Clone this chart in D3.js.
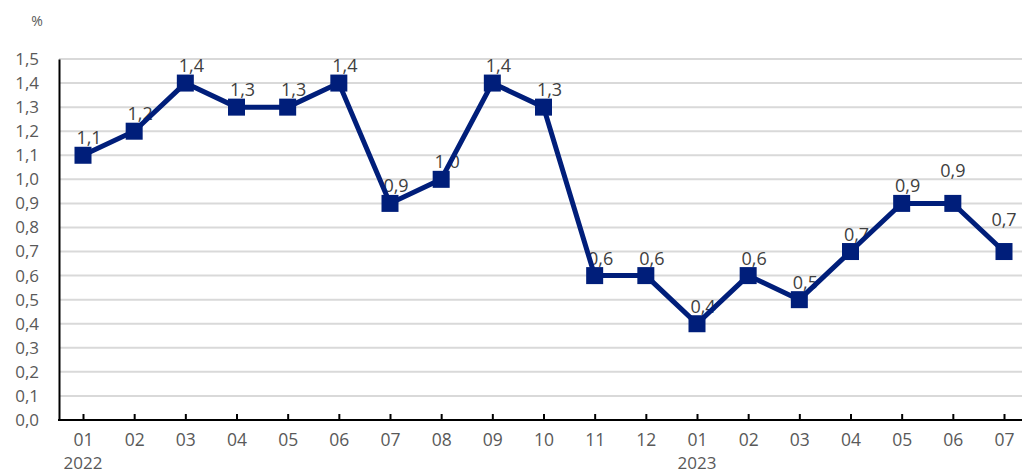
<!DOCTYPE html>
<html>
<head>
<meta charset="utf-8">
<script src="https://cdn.jsdelivr.net/npm/d3@7"></script>
<style>
  body { margin: 0; background: #fff; }
  svg text { font-family: "Open Sans", "Noto Sans", sans-serif; }
</style>
</head>
<body>
<div id="chart"></div>
<script>
// months, two years
var months = ["01","02","03","04","05","06","07","08","09","10","11","12",
              "01","02","03","04","05","06","07"];
var years = ["2022","","","","","","","","","","","",
             "2023","","","","","",""];
var values = [1.1,1.2,1.4,1.3,1.3,1.4,0.9,1.0,1.4,1.3,0.6,0.6,
              0.4,0.6,0.5,0.7,0.9,0.9,0.7];
var yTicks = [0,0.1,0.2,0.3,0.4,0.5,0.6,0.7,0.8,0.9,1.0,1.1,1.2,1.3,1.4,1.5];

var width = 1022, height = 475;
var plotLeft = 59, plotRight = 1022, plotTop = 59, plotBottom = 420;

var fmt = function(v) { return d3.format(".1f")(v).replace(".", ","); };

var svg = d3.select("#chart").append("svg")
  .attr("width", width)
  .attr("height", height);

var idx = d3.range(values.length);

var x = d3.scalePoint()
  .domain(idx)
  .range([83, 1004]);

var y = d3.scaleLinear()
  .domain([0, 1.5])
  .range([plotBottom, plotTop]);

// gridlines
svg.append("g")
  .selectAll("line")
  .data(yTicks.slice(1))
  .enter().append("line")
  .attr("x1", plotLeft)
  .attr("x2", plotRight)
  .attr("y1", function(d) { return y(d); })
  .attr("y2", function(d) { return y(d); })
  .attr("stroke", "#d9d9d9")
  .attr("stroke-width", 2);

// y axis
var yAxis = d3.axisLeft(y).tickValues(yTicks).tickFormat(fmt).tickSize(0).tickPadding(0);
var yg = svg.append("g")
  .attr("transform", "translate(" + plotLeft + ",0)")
  .call(yAxis);
yg.select(".domain").attr("stroke", "#000").attr("stroke-width", 2);
yg.selectAll("text")
  .attr("x", -20)
  .style("font-size", "17px")
  .style("fill", "#595959");

// x axis
var xAxis = d3.axisBottom(x).tickFormat(function(i) { return months[i]; }).tickSizeInner(-6).tickSizeOuter(0).tickPadding(14);
var xg = svg.append("g")
  .attr("transform", "translate(0," + plotBottom + ")")
  .call(xAxis);
xg.select(".domain").remove();
xg.selectAll(".tick line").attr("stroke", "#000").attr("stroke-width", 2);
xg.selectAll("text")
  .style("font-size", "17.5px")
  .style("fill", "#595959");

svg.append("line")
  .attr("x1", plotLeft - 1)
  .attr("x2", plotRight)
  .attr("y1", plotBottom)
  .attr("y2", plotBottom)
  .attr("stroke", "#000")
  .attr("stroke-width", 2);

// year labels
svg.append("g")
  .selectAll("text")
  .data(idx.filter(function(i) { return years[i] != ""; }))
  .enter().append("text")
  .attr("x", function(i) { return x(i); })
  .attr("y", 469)
  .attr("text-anchor", "middle")
  .style("font-size", "17px")
  .style("fill", "#595959")
  .text(function(i) { return years[i]; });

// unit
svg.append("text")
  .attr("x", 37)
  .attr("y", 26)
  .attr("text-anchor", "middle")
  .style("font-size", "14px")
  .style("fill", "#595959")
  .text("%");

// data labels (drawn first, markers sit on top)
// the last two labels sit higher above their points
svg.append("g")
  .selectAll("text")
  .data(idx)
  .enter().append("text")
  .attr("x", function(i) { return x(i) + (i >= 17 ? 0 : 6); })
  .attr("y", function(i) { return y(values[i]) - (i >= 17 ? 26 : 11); })
  .attr("text-anchor", "middle")
  .style("font-size", "18px")
  .style("fill", "#404040")
  .text(function(i) { return fmt(values[i]); });

// line
var line = d3.line()
  .x(function(i) { return x(i); })
  .y(function(i) { return y(values[i]); });

svg.append("path")
  .datum(idx)
  .attr("d", line)
  .attr("fill", "none")
  .attr("stroke", "#001e7a")
  .attr("stroke-width", 5)
  .attr("stroke-linejoin", "miter");

// markers
var ms = 17;
svg.append("g")
  .selectAll("rect")
  .data(idx)
  .enter().append("rect")
  .attr("x", function(i) { return x(i) - ms / 2; })
  .attr("y", function(i) { return y(values[i]) - ms / 2; })
  .attr("width", ms)
  .attr("height", ms)
  .attr("fill", "#001e7a");
</script>
</body>
</html>
